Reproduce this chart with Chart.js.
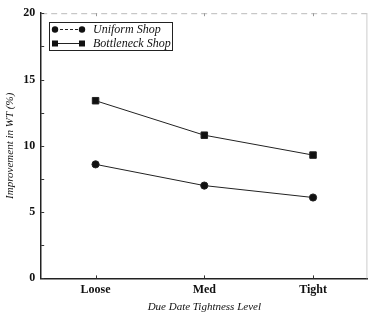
<!DOCTYPE html>
<html>
<head>
<meta charset="utf-8">
<script src="https://cdn.jsdelivr.net/npm/chart.js@4/dist/chart.umd.min.js"></script>
<style>
  body { margin: 0; background: #fff; }
  #wrap { width: 373px; height: 314px; position: relative; }
</style>
</head>
<body>
<div id="wrap"><canvas id="myChart"></canvas></div>
<script>
"use strict";

const levels = ["Loose", "Med", "Tight"];
const uniformShop = [8.6, 7.0, 6.1];
const bottleneckShop = [13.4, 10.8, 9.3];
const yTicks = [0, 5, 10, 15, 20];

const ctx = document.getElementById("myChart");
const serif = "'Liberation Serif', 'DejaVu Serif', serif";

// inward tick marks + faint top/right frame, like the scanned figure
const frame = {
  id: "frame",
  afterDraw(chart) {
    const { ctx: c, chartArea: a, scales } = chart;
    c.save();
    c.strokeStyle = "#bbb";
    c.lineWidth = 1;
    c.setLineDash([6, 4]);
    c.beginPath();
    c.moveTo(a.left, a.top + 0.5);
    c.lineTo(a.right, a.top + 0.5);
    c.stroke();
    c.setLineDash([]);
    c.strokeStyle = "#ccc";
    c.beginPath();
    c.moveTo(a.right - 0.5, a.top);
    c.lineTo(a.right - 0.5, a.bottom);
    c.stroke();

    c.strokeStyle = "#333";
    for (let v = 0; v <= 20; v += 2.5) {
      const y = Math.round(scales.y.getPixelForValue(v)) + 0.5;
      c.beginPath();
      c.moveTo(a.left, y);
      c.lineTo(a.left + 3, y);
      c.stroke();
    }
    levels.forEach((l, i) => {
      const x = Math.round(scales.x.getPixelForValue(i)) + 0.5;
      c.beginPath();
      c.moveTo(x, a.bottom);
      c.lineTo(x, a.bottom - 3);
      c.stroke();
      c.strokeStyle = "#999";
      c.beginPath();
      c.moveTo(x, a.top);
      c.lineTo(x, a.top + 3);
      c.stroke();
      c.strokeStyle = "#333";
    });
    c.restore();
  },
};

// legend box with a line and a marker at each end
const boxLegend = {
  id: "boxLegend",
  afterDraw(chart) {
    const c = chart.ctx;
    const left = 49, top = 22, w = 123, h = 28;
    c.save();
    c.strokeStyle = "#222";
    c.lineWidth = 1;
    c.strokeRect(left + 0.5, top + 0.5, w, h);
    const rows = [
      { y: 29.5, dash: [3, 2], style: "circle", text: "Uniform Shop" },
      { y: 43.5, dash: [], style: "rect", text: "Bottleneck Shop" },
    ];
    c.font = "italic 12px " + serif;
    c.textBaseline = "middle";
    c.fillStyle = "#111";
    rows.forEach((r) => {
      c.strokeStyle = "#222";
      c.setLineDash(r.dash);
      c.beginPath();
      c.moveTo(55, r.y);
      c.lineTo(82, r.y);
      c.stroke();
      c.setLineDash([]);
      [55, 82].forEach((x) => {
        c.beginPath();
        if (r.style === "circle") {
          c.arc(x, r.y, 3.2, 0, Math.PI * 2);
        } else {
          c.rect(x - 3, r.y - 3, 6, 6);
        }
        c.fill();
      });
      c.fillText(r.text, 93, r.y);
    });
    c.restore();
  },
};

new Chart(ctx, {
  type: "line",
  data: {
    labels: levels,
    datasets: [
      {
        label: "Uniform Shop",
        data: uniformShop,
        borderColor: "#222",
        backgroundColor: "#111",
        borderWidth: 1,
        pointStyle: "circle",
        pointRadius: 3.6,
        tension: 0,
      },
      {
        label: "Bottleneck Shop",
        data: bottleneckShop,
        borderColor: "#222",
        backgroundColor: "#111",
        borderWidth: 1,
        pointStyle: "rect",
        pointRadius: 4.6,
        tension: 0,
      },
    ],
  },
  options: {
    responsive: true,
    maintainAspectRatio: false,
    animation: false,
    layout: { padding: { top: -1, right: 0, bottom: 0, left: 4 } },
    plugins: {
      legend: { display: false },
      tooltip: { enabled: false },
    },
    scales: {
      x: {
        offset: true,
        grid: { display: false, drawTicks: false },
        border: { color: "#222", width: 1.5 },
        ticks: {
          color: "#111",
          padding: 4,
          font: { family: serif, size: 12, weight: "bold" },
        },
        title: {
          display: true,
          text: "Due Date Tightness Level",
          color: "#111",
          padding: { top: 0, bottom: 0 },
          font: { family: serif, size: 11, style: "italic" },
        },
      },
      y: {
        min: 0,
        max: 20,
        afterBuildTicks: (scale) => {
          scale.ticks = yTicks.map((v) => ({ value: v }));
        },
        grid: { display: false, drawTicks: false },
        border: { color: "#222", width: 1.5 },
        ticks: {
          color: "#111",
          padding: 6,
          font: { family: serif, size: 12, weight: "bold" },
        },
        title: {
          display: true,
          text: "Improvement in WT (%)",
          color: "#111",
          padding: { top: 0, bottom: 0 },
          font: { family: serif, size: 11, style: "italic" },
        },
      },
    },
  },
  plugins: [frame, boxLegend],
});
</script>
</body>
</html>
